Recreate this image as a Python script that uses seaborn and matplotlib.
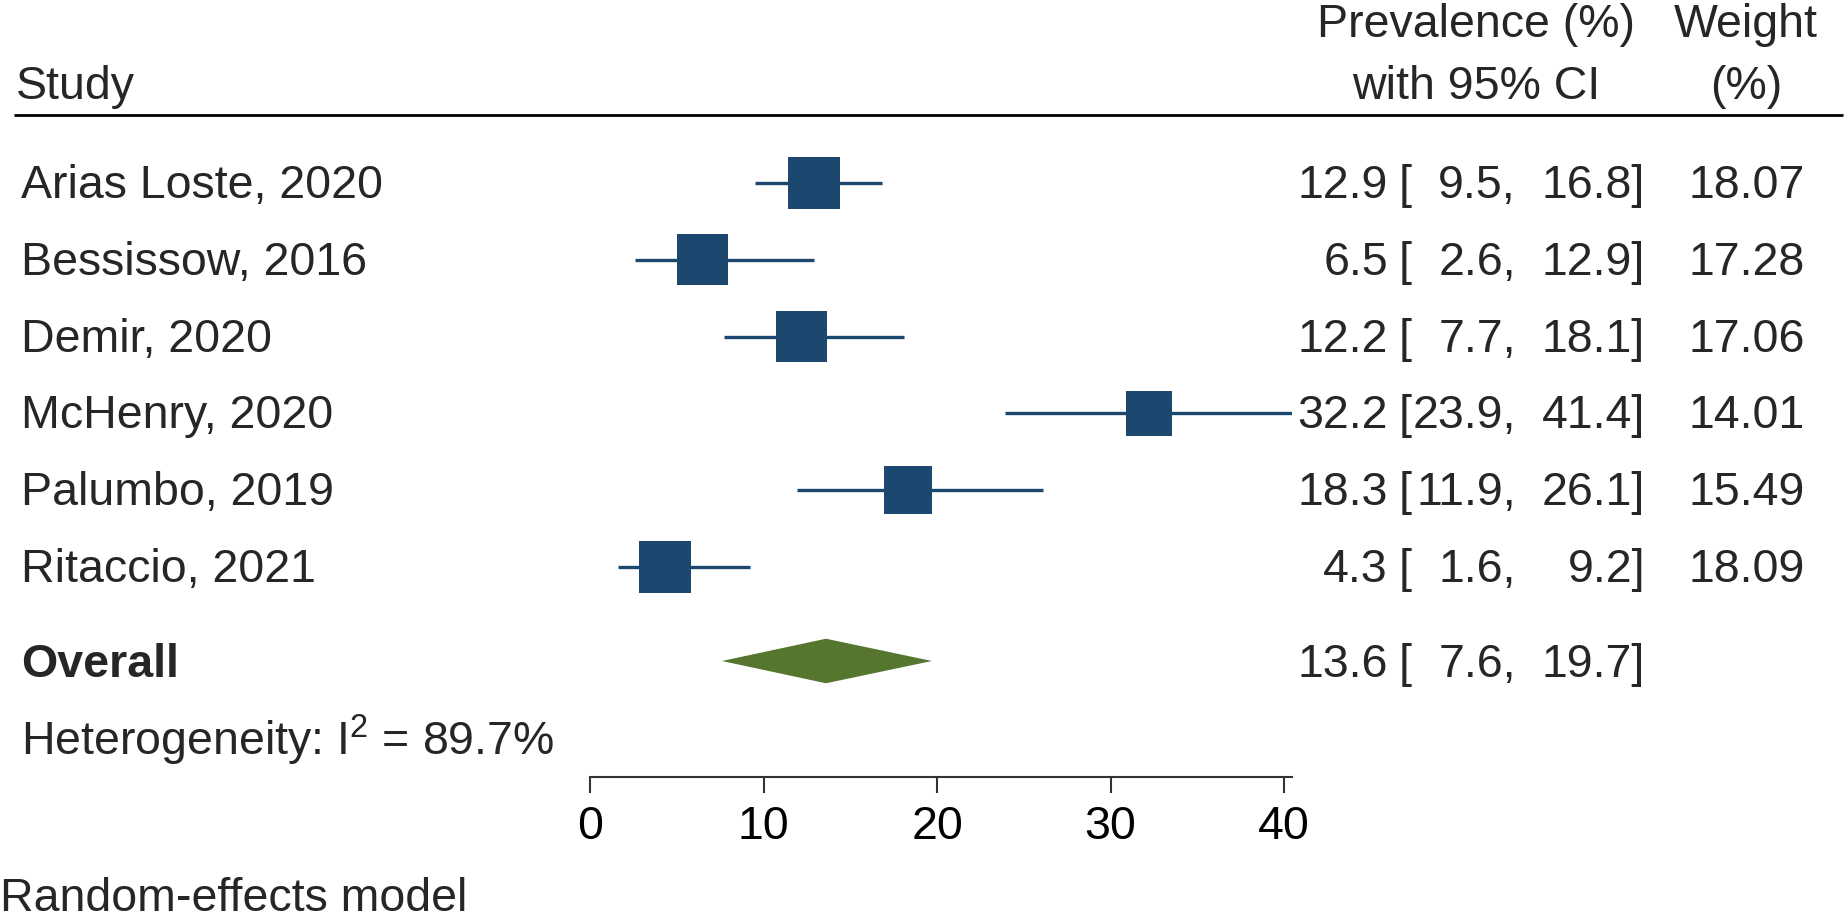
import numpy as np
import pandas as pd
import matplotlib
matplotlib.use("Agg")
import matplotlib.pyplot as plt
import matplotlib.transforms as mtransforms
import seaborn as sns

# ------------------------------------------------------------------
# DATA
# ------------------------------------------------------------------
studies = ["Arias Loste, 2020", "Bessissow, 2016", "Demir, 2020",
           "McHenry, 2020", "Palumbo, 2019", "Ritaccio, 2021"]
prevalence = [12.9, 6.5, 12.2, 32.2, 18.3, 4.3]
ci_lower = [9.5, 2.6, 7.7, 23.9, 11.9, 1.6]
ci_upper = [16.8, 12.9, 18.1, 41.4, 26.1, 9.2]
weights = [18.07, 17.28, 17.06, 14.01, 15.49, 18.09]

overall_est = 13.6
overall_lower = 7.6
overall_upper = 19.7
i_squared = 89.7

x_ticks = [0, 10, 20, 30, 40]

# ------------------------------------------------------------------
# STYLE
# ------------------------------------------------------------------
W, H = 1847, 922
BLUE = "#1C4870"
GREEN = "#56752F"
AXC = "#333333"
FS = 33.5

sns.set_theme(style="white")
plt.rcParams["font.family"] = ["Liberation Sans", "DejaVu Sans"]
plt.rcParams["mathtext.fontset"] = "custom"
plt.rcParams["mathtext.rm"] = "Liberation Sans"
plt.rcParams["mathtext.it"] = "Liberation Sans"

ROW0, ROWSTEP = 183, 76.8     # pixel centre of first row, row spacing
AX_BOTTOM = 777               # pixel y of the x axis
X0, X1 = 590, 1292            # pixel x of value 0 and of axis end
XMAX = 40.45


def row_of(py):
    # pixel y (from top) -> row coordinate
    return 1 + (py - ROW0) / ROWSTEP


fig = plt.figure(figsize=(W / 100, H / 100), dpi=100)
ax = fig.add_axes([X0 / W, 1 - AX_BOTTOM / H, (X1 - X0) / W, AX_BOTTOM / H])

rows = np.arange(1, len(studies) + 1)
df = pd.DataFrame({"study": studies, "prev": prevalence, "lo": ci_lower,
                   "hi": ci_upper, "weight": weights, "row": rows})

# confidence intervals
ax.hlines(df["row"], df["lo"], df["hi"], color=BLUE, lw=2.4, zorder=2)

# squares, area proportional to weight
sns.scatterplot(data=df, x="prev", y="row", size="weight",
                sizes=(77.5 * min(weights), 77.5 * max(weights)),
                marker="s", color=BLUE, linewidth=0, legend=False,
                ax=ax, zorder=3)

# overall diamond
ov_row = row_of(661)
dh = 0.29
ax.fill([overall_lower, overall_est, overall_upper, overall_est],
        [ov_row, ov_row - dh, ov_row, ov_row + dh],
        color=GREEN, lw=0, zorder=3)

ax.set_xlim(0, XMAX)
ax.set_ylim(row_of(AX_BOTTOM), row_of(0))
ax.set_xlabel("")
ax.set_ylabel("")
ax.set_yticks([])
ax.set_xticks(x_ticks)
ax.set_xticklabels([str(t) for t in x_ticks], fontsize=FS)
for s in ["top", "left", "right"]:
    ax.spines[s].set_visible(False)
ax.spines["bottom"].set_color(AXC)
ax.spines["bottom"].set_linewidth(1.5)
ax.tick_params(axis="x", bottom=True, direction="out", length=11.5,
               width=1.5, color=AXC, pad=9, labelcolor="black")
ax.patch.set_alpha(0)

# ------------------------------------------------------------------
# TEXT COLUMNS
# ------------------------------------------------------------------
tr = mtransforms.blended_transform_factory(fig.transFigure, ax.transData)
BOFF = 15 / ROWSTEP  # centre -> baseline


def col(px, y, s, ha="left", **kw):
    ax.text(px / W, y, s, transform=tr, ha=ha, va="baseline",
            fontsize=FS, clip_on=False, **kw)


for r, name, p, lo, hi, w in zip(rows, studies, prevalence, ci_lower,
                                 ci_upper, weights):
    y = r + BOFF
    col(21, y, name)
    col(1388, y, f"{p:.1f}", ha="right")
    col(1399, y, "[")
    col(1516, y, f"{lo:.1f},", ha="right")
    col(1645, y, f"{hi:.1f}]", ha="right")
    col(1805, y, f"{w:.2f}", ha="right")

yo = ov_row + 16 / ROWSTEP
col(21, yo, "Overall", fontweight="bold")
col(1388, yo, f"{overall_est:.1f}", ha="right")
col(1399, yo, "[")
col(1516, yo, f"{overall_lower:.1f},", ha="right")
col(1645, yo, f"{overall_upper:.1f}]", ha="right")

col(21, row_of(755), f"Heterogeneity: I$^2$ = {i_squared}%")
col(0, row_of(911), "Random-effects model")

# headers
col(16, row_of(99), "Study")
col(1476, row_of(37), "Prevalence (%)", ha="center")
col(1476, row_of(99), "with 95% CI", ha="center")
col(1746, row_of(37), "Weight", ha="center")
col(1746, row_of(99), "(%)", ha="center")

hl = row_of(115)
ax.plot([14 / W, 1843 / W], [hl, hl], transform=tr, color="black",
        lw=2, clip_on=False, solid_capstyle="butt")

fig.savefig("out.png", dpi=100)
